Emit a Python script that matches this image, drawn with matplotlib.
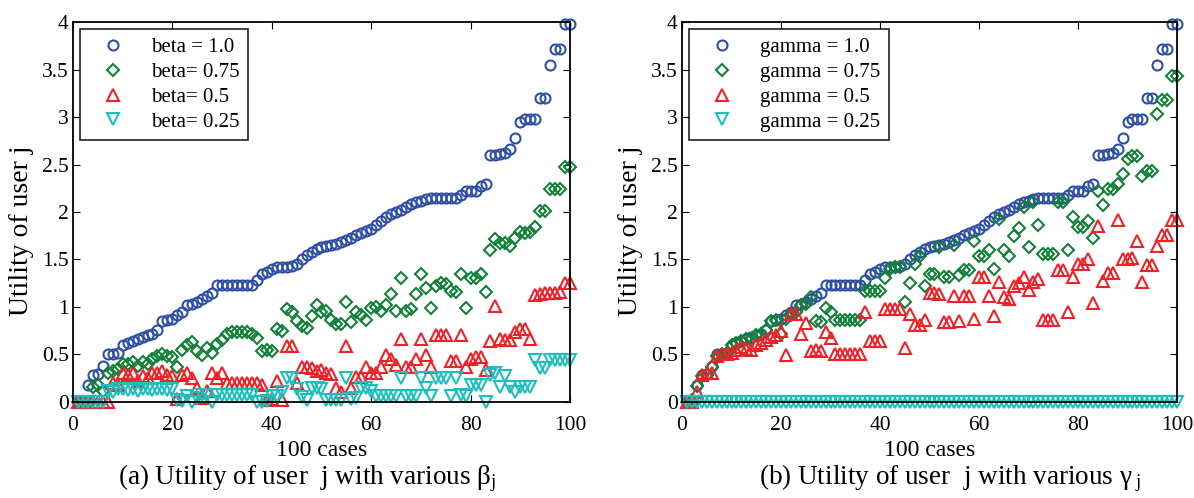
import numpy as np
import matplotlib
matplotlib.use('Agg')
import matplotlib.pyplot as plt

plt.rcParams['font.family'] = ['Liberation Serif', 'DejaVu Serif']
plt.rcParams['mathtext.fontset'] = 'stix'

cases = np.arange(1, 101)

# utility for parameter = 1.0 (same in both panels)
u_10 = [0, 0, 0.18, 0.28, 0.29, 0.38, 0.5, 0.51, 0.52, 0.6,
        0.62, 0.64, 0.66, 0.68, 0.7, 0.72, 0.76, 0.85, 0.86, 0.87,
        0.92, 0.95, 1.02, 1.03, 1.05, 1.08, 1.12, 1.15, 1.23, 1.23,
        1.23, 1.23, 1.23, 1.23, 1.23, 1.23, 1.28, 1.35, 1.37, 1.4,
        1.42, 1.42, 1.42, 1.43, 1.45, 1.5, 1.55, 1.58, 1.61, 1.63,
        1.64, 1.65, 1.66, 1.68, 1.7, 1.73, 1.76, 1.78, 1.8, 1.82,
        1.86, 1.9, 1.95, 1.98, 2.0, 2.02, 2.05, 2.08, 2.1, 2.12,
        2.14, 2.15, 2.15, 2.15, 2.15, 2.15, 2.15, 2.18, 2.22, 2.22,
        2.22, 2.27, 2.29, 2.6, 2.6, 2.61, 2.62, 2.66, 2.78, 2.95,
        2.98, 2.98, 2.98, 3.2, 3.2, 3.55, 3.72, 3.72, 3.98, 3.98]

# (a) beta
beta_075 = [0, 0, 0, 0.16, 0.18, 0.12, 0.3, 0.33, 0.35, 0.4,
            0.4, 0.42, 0.38, 0.42, 0.4, 0.45, 0.48, 0.5, 0.48, 0.47,
            0.37, 0.55, 0.6, 0.63, 0.54, 0.49, 0.57, 0.52, 0.61, 0.65,
            0.72, 0.74, 0.74, 0.74, 0.74, 0.72, 0.67, 0.54, 0.55, 0.54,
            0.77, 0.75, 0.98, 0.95, 0.85, 0.8, 0.78, 0.9, 1.02, 0.95,
            0.96, 0.86, 0.82, 0.82, 1.05, 0.84, 0.95, 0.92, 0.86, 0.99,
            1.0, 0.96, 1.02, 1.14, 0.96, 1.31, 0.96, 0.98, 1.14, 1.35,
            1.2, 0.99, 1.22, 1.25, 1.24, 1.17, 1.16, 1.35, 0.99, 1.31,
            1.31, 1.35, 1.16, 1.6, 1.72, 1.67, 1.67, 1.64, 1.73, 1.79,
            1.78, 1.79, 1.84, 2.01, 2.01, 2.24, 2.24, 2.24, 2.47, 2.47]
beta_05 = [0, 0, 0, 0, 0, 0, 0, 0.2, 0.18, 0.3,
           0.28, 0.3, 0.22, 0.27, 0.25, 0.31, 0.3, 0.33, 0.28, 0.27,
           0.03, 0.28, 0.31, 0.25, 0.15, 0.04, 0.12, 0.31, 0.25, 0.31,
           0.2, 0.2, 0.2, 0.2, 0.2, 0.2, 0.2, 0.18, 0.02, 0.03,
           0.22, 0.02, 0.59, 0.59, 0.2, 0.37, 0.37, 0.36, 0.33, 0.34,
           0.31, 0.29, 0.15, 0.1, 0.59, 0.15, 0.26, 0.26, 0.37, 0.31,
           0.3, 0.37, 0.49, 0.45, 0.39, 0.66, 0.37, 0.37, 0.45, 0.66,
           0.49, 0.37, 0.71, 0.71, 0.71, 0.43, 0.43, 0.71, 0.37, 0.45,
           0.47, 0.47, 0.34, 0.64, 1.01, 0.66, 0.65, 0.65, 0.74, 0.77,
           0.77, 0.66, 1.13, 1.14, 1.15, 1.15, 1.15, 1.16, 1.25, 1.25]
beta_025 = [0, 0, 0, 0, 0, 0, 0.12, 0.1, 0.14, 0.14,
            0.13, 0.14, 0.12, 0.14, 0.14, 0.13, 0.14, 0.14, 0.13, 0.14,
            0.02, 0.01, 0.06, 0, 0.04, 0.07, 0.07, 0, 0.07, 0.07,
            0.07, 0.07, 0.07, 0.07, 0.07, 0.07, 0, 0, 0.01, 0.06,
            0.06, 0.1, 0.25, 0.25, 0.14, 0.05, 0.02, 0.15, 0.15, 0.14,
            0.02, 0.02, 0.02, 0.02, 0.25, 0.03, 0.04, 0.15, 0.15, 0.12,
            0.06, 0.06, 0.06, 0.06, 0.06, 0.25, 0.06, 0.06, 0.06, 0.25,
            0.15, 0.06, 0.25, 0.25, 0.25, 0.06, 0.25, 0.07, 0.06, 0.18,
            0.18, 0.18, 0, 0.28, 0.3, 0.16, 0.27, 0.16, 0.11, 0.16,
            0.16, 0.16, 0.44, 0.36, 0.36, 0.44, 0.44, 0.44, 0.44, 0.44]

# (b) gamma
gamma_075 = [0, 0.02, 0.17, 0.27, 0.28, 0.37, 0.48, 0.5, 0.52, 0.6,
             0.62, 0.64, 0.66, 0.66, 0.7, 0.72, 0.76, 0.85, 0.86, 0.72,
             0.87, 0.92, 0.95, 1.02, 1.03, 1.1, 0.85, 0.84, 0.99, 0.95,
             0.86, 0.86, 0.86, 0.86, 0.86, 0.86, 1.17, 1.17, 1.17, 1.17,
             1.31, 1.4, 1.42, 1.42, 1.05, 1.25, 1.45, 1.54, 1.22, 1.35,
             1.35, 1.63, 1.32, 1.32, 1.65, 1.34, 1.39, 1.39, 1.69, 1.54,
             1.54, 1.6, 1.4, 1.93, 1.6, 1.54, 1.75, 1.83, 2.05, 1.63,
             2.1, 1.86, 1.56, 1.56, 1.56, 2.1, 2.1, 1.6, 1.95, 1.84,
             1.84, 1.9, 1.73, 2.22, 2.07, 2.24, 2.24, 2.3, 2.4, 2.56,
             2.59, 2.59, 2.38, 2.43, 2.43, 3.03, 3.18, 3.18, 3.43, 3.43]
gamma_05 = [0, 0, 0.1, 0.28, 0.3, 0.3, 0.48, 0.5, 0.5, 0.52,
            0.55, 0.58, 0.56, 0.55, 0.6, 0.62, 0.65, 0.68, 0.7, 0.75,
            0.49, 0.93, 0.93, 0.72, 0.83, 0.54, 0.55, 0.54, 0.74, 0.67,
            0.51, 0.51, 0.51, 0.51, 0.51, 0.51, 0.95, 0.64, 0.64, 0.64,
            0.98, 0.98, 0.98, 0.98, 0.57, 0.93, 0.81, 0.81, 0.86, 1.15,
            1.15, 1.14, 0.84, 0.84, 1.12, 0.85, 1.12, 1.12, 0.87, 1.32,
            1.32, 1.12, 0.9, 1.26, 1.1, 1.08, 1.22, 1.25, 1.32, 1.18,
            1.26, 1.29, 0.86, 0.86, 0.86, 1.39, 1.39, 0.95, 1.32, 1.45,
            1.45, 1.5, 1.04, 1.85, 1.27, 1.36, 1.36, 1.92, 1.5, 1.5,
            1.52, 1.69, 1.26, 1.44, 1.44, 1.64, 1.76, 1.76, 1.92, 1.92]
gamma_025 = [0] * 100

c_blue = '#2F4FA6'
c_green = '#13803A'
c_red = '#EE2229'
c_cyan = '#1BBFC0'

fig = plt.figure(figsize=(11.94, 4.98), dpi=100)
ax1 = fig.add_axes([0.0611, 0.1928, 0.4163, 0.763])
ax2 = fig.add_axes([0.5712, 0.1928, 0.4146, 0.763])

panels = [
    (ax1, [u_10, beta_075, beta_05, beta_025],
     ['beta = 1.0', 'beta= 0.75', 'beta= 0.5', 'beta= 0.25']),
    (ax2, [u_10, gamma_075, gamma_05, gamma_025],
     ['gamma = 1.0', 'gamma = 0.75', 'gamma = 0.5', 'gamma = 0.25']),
]
markers = ['o', 'D', '^', 'v']
sizes = [7.2, 6.3, 8.5, 8.5]
colors = [c_blue, c_green, c_red, c_cyan]

for ax, series, labels in panels:
    for s, m, ms, c, lab in zip(series, markers, sizes, colors, labels):
        ax.plot(cases, s, linestyle='none', marker=m, markersize=ms,
                markerfacecolor='none', markeredgecolor=c, markeredgewidth=1.5,
                label=lab, clip_on=False)
    ax.set_xlim(0, 100)
    ax.set_ylim(0, 4)
    ax.set_xticks([0, 20, 40, 60, 80, 100])
    ax.set_yticks([0, 0.5, 1, 1.5, 2, 2.5, 3, 3.5, 4])
    ax.set_yticklabels(['0', '0.5', '1', '1.5', '2', '2.5', '3', '3.5', '4'])
    ax.tick_params(direction='in', top=True, right=True, labelsize=15.5,
                   length=5, width=0.8)
    ax.tick_params(axis='x', pad=10)
    ax.tick_params(axis='y', pad=3)
    for sp in ax.spines.values():
        sp.set_linewidth(1.3)
    ax.set_xlabel('100 cases', fontsize=17, labelpad=4)
    ax.set_ylabel('Utility of user j', fontsize=20)
    ax.yaxis.set_label_coords(-0.078, 0.45)
    leg = ax.legend(loc='upper left', fontsize=15, frameon=True, fancybox=False,
                    edgecolor='black', borderpad=0.4, labelspacing=0.25,
                    handletextpad=0.7, borderaxespad=0.35, handlelength=2.3)
    leg.get_frame().set_linewidth(1.3)

fig.text(0.257, 0.008, r'(a) Utility of user  j with various $\mathregular{β_{j}}$',
         ha='center', va='bottom', fontsize=19.5)
fig.text(0.796, 0.008, r'(b) Utility of user  j with various $\mathregular{γ_{\ j}}$',
         ha='center', va='bottom', fontsize=19.5)

fig.savefig('out.png', dpi=100)
